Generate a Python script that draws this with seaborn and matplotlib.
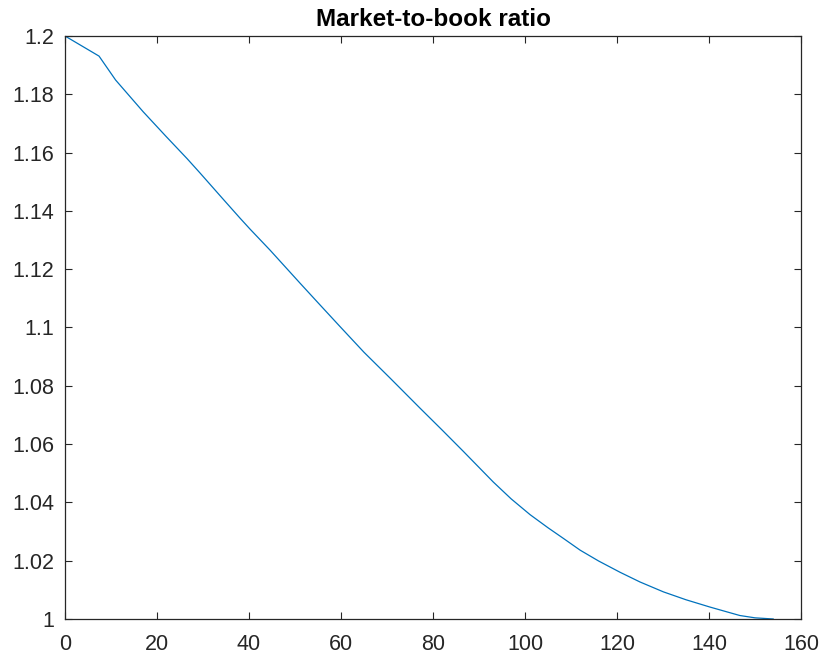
import matplotlib
matplotlib.use("Agg")
import matplotlib.pyplot as plt
import seaborn as sns
import pandas as pd

# Simulated path of the market-to-book ratio over time
periods = [0, 7.4, 11, 17, 22, 26.5, 29.3, 34, 38, 40.2, 44.6, 51.1, 55, 59.8,
           65, 70.7, 77.2, 82, 86.6, 93.1, 97, 101.1, 105, 108.3, 112, 116,
           120.7, 125, 130.1, 135, 140.2, 144, 146.7, 150, 154]
mb_ratio = [1.2000, 1.1931, 1.1849, 1.1740, 1.1655, 1.1580, 1.1531, 1.1447,
            1.1376, 1.1338, 1.1265, 1.1152, 1.1085, 1.1003, 1.0915, 1.0826,
            1.0723, 1.0648, 1.0575, 1.0470, 1.0412, 1.0358, 1.0313, 1.0277,
            1.0236, 1.0199, 1.0160, 1.0127, 1.0093, 1.0066, 1.0041, 1.0024,
            1.0012, 1.0004, 1.0000]

x_ticks = [0, 20, 40, 60, 80, 100, 120, 140, 160]
y_ticks = [1, 1.02, 1.04, 1.06, 1.08, 1.1, 1.12, 1.14, 1.16, 1.18, 1.2]
y_labels = ["1", "1.02", "1.04", "1.06", "1.08", "1.1", "1.12", "1.14",
            "1.16", "1.18", "1.2"]

df = pd.DataFrame({"t": periods, "mb": mb_ratio})

sns.set_style("ticks")
plt.rcParams["font.family"] = ["Liberation Sans", "DejaVu Sans"]

fig = plt.figure(figsize=(8.22, 6.6), dpi=100)
ax = fig.add_axes([65 / 822, 41 / 660, 736 / 822, 583 / 660])

sns.lineplot(data=df, x="t", y="mb", ax=ax, color="#0072BD",
             linewidth=0.9, sort=False)

ax.set_xlim(0, 160)
ax.set_ylim(1, 1.2)
ax.set_xticks(x_ticks)
ax.set_xticklabels([str(v) for v in x_ticks])
ax.set_yticks(y_ticks)
ax.set_yticklabels(y_labels)
ax.set_xlabel("")
ax.set_ylabel("")

edge = "#262626"
for side in ["top", "right", "bottom", "left"]:
    ax.spines[side].set_visible(True)
    ax.spines[side].set_color(edge)
    ax.spines[side].set_linewidth(0.9)

ax.tick_params(axis="both", direction="in", length=5, width=0.8,
               color=edge, labelcolor=edge, labelsize=15.5,
               top=True, right=True)
ax.tick_params(axis="x", pad=11)
ax.tick_params(axis="y", pad=8)

ax.set_title("Market-to-book ratio", fontsize=17.5, fontweight="bold",
             color="black", pad=7)

fig.savefig("out.png", dpi=100, facecolor="white")
